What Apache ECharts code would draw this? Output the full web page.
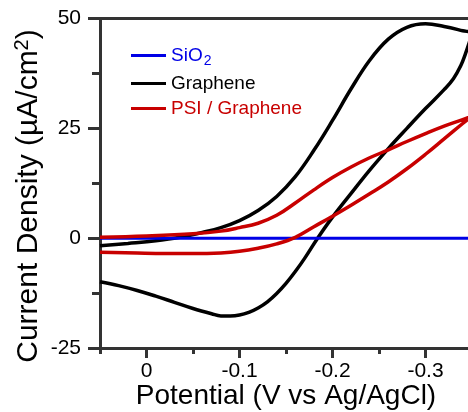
<!DOCTYPE html>
<html>
<head>
<meta charset="utf-8">
<script src="https://cdn.jsdelivr.net/npm/echarts@6/dist/echarts.min.js"></script>
<style>html,body{margin:0;padding:0;background:#fff;}#c{width:468px;height:412px;}</style>
</head>
<body>
<div id="c"></div>
<script>
// Tick labels
const xTickValues = [0, -0.1, -0.2, -0.3];
const xMinorTickValues = [0.05, -0.05, -0.15, -0.25, -0.35];
const yTickValues = [-25, 0, 25, 50];

// SiO2 (flat baseline)
const sio2 = [[0.05, 0], [-0.1, 0], [-0.2, 0], [-0.35, 0]];

// Graphene CV loop: forward branch then return branch
const graphene = [
  [0.05, -1.7], [0.02, -1.2], [-0.01, -0.6], [-0.04, 0.4], [-0.06, 1.3],
  [-0.08, 2.4], [-0.10, 4.0], [-0.12, 6.3], [-0.14, 9.5], [-0.16, 14.0],
  [-0.18, 20.0], [-0.20, 26.8], [-0.22, 34.0], [-0.24, 40.5], [-0.26, 45.3],
  [-0.28, 48.0], [-0.30, 48.8], [-0.32, 48.2], [-0.34, 47.2], [-0.35, 46.6],
  [-0.347, 44.5], [-0.343, 42.0], [-0.338, 39.3], [-0.33, 36.3], [-0.32, 33.8],
  [-0.30, 29.5], [-0.28, 25.0], [-0.26, 20.4], [-0.24, 15.5], [-0.22, 10.2],
  [-0.20, 4.8], [-0.184, 0], [-0.17, -4.6], [-0.16, -7.6], [-0.15, -10.3],
  [-0.14, -12.6], [-0.13, -14.5], [-0.12, -15.9], [-0.11, -16.9], [-0.10, -17.5],
  [-0.09, -17.7], [-0.08, -17.7], [-0.07, -17.2], [-0.05, -16.0], [-0.03, -14.6],
  [-0.01, -13.2], [0.01, -11.9], [0.03, -10.8], [0.05, -9.9]
];

// PSI / Graphene CV loop
const psiGraphene = [
  [0.05, 0.2], [0.0, 0.5], [-0.05, 1.0], [-0.08, 1.6], [-0.10, 2.4],
  [-0.12, 3.4], [-0.14, 5.2], [-0.16, 8.0], [-0.18, 11.0], [-0.20, 13.8],
  [-0.22, 16.2], [-0.24, 18.3], [-0.26, 20.1], [-0.28, 22.0], [-0.30, 23.8],
  [-0.32, 25.5], [-0.34, 27.0], [-0.35, 27.8],
  [-0.34, 26.1], [-0.32, 22.6], [-0.30, 19.1], [-0.28, 15.8], [-0.26, 12.8],
  [-0.24, 10.1], [-0.22, 7.5], [-0.20, 5.0], [-0.18, 2.6], [-0.16, 0.2],
  [-0.14, -1.3], [-0.12, -2.3], [-0.10, -3.0], [-0.08, -3.35], [-0.05, -3.5],
  [-0.02, -3.5], [0.01, -3.4], [0.05, -3.2]
];

const FONT = 'Liberation Sans, Arial, sans-serif';
const AXIS_COLOR = '#333333';
const BLUE = '#0000e6';
const BLACK = '#000000';
const RED = '#c80000';

const chart = echarts.init(document.getElementById('c'), null, {renderer: 'canvas'});
const xBase = {
  type: 'value', min: -0.35, max: 0.05, inverse: true, gridIndex: 0,
  splitLine: {show: false}
};
chart.setOption({
  animation: false,
  backgroundColor: '#ffffff',
  grid: {left: 100, right: -4, top: 18.5, bottom: 64, containLabel: false, outerBoundsMode: 'none'},
  xAxis: [
    Object.assign({}, xBase, {
      position: 'bottom',
      name: 'Potential (V vs Ag/AgCl)',
      nameLocation: 'middle',
      nameGap: 34,
      nameMoveOverlap: false,
      nameTextStyle: {fontFamily: FONT, fontSize: 28, color: '#000', verticalAlign: 'top'},
      axisLine: {show: true, onZero: false, lineStyle: {color: AXIS_COLOR, width: 3}},
      axisTick: {show: true, inside: false, length: 10, customValues: xTickValues, lineStyle: {color: AXIS_COLOR, width: 3}},
      axisLabel: {show: true, customValues: xTickValues, margin: 13, fontFamily: FONT, fontSize: 21, color: '#000',
        formatter: v => (v === 0 ? '0' : String(Math.round(v * 10) / 10))}
    }),
    Object.assign({}, xBase, {
      position: 'bottom',
      axisLine: {show: false, onZero: false},
      axisTick: {show: true, inside: false, length: 6, customValues: xMinorTickValues, lineStyle: {color: AXIS_COLOR, width: 3}},
      axisLabel: {show: false}
    }),
    Object.assign({}, xBase, {
      position: 'top',
      axisLine: {show: true, onZero: false, lineStyle: {color: AXIS_COLOR, width: 3}},
      axisTick: {show: false},
      axisLabel: {show: false}
    })
  ],
  yAxis: {
    type: 'value', min: -25, max: 50, interval: 25,
    splitLine: {show: false},
    axisLine: {show: true, onZero: false, lineStyle: {color: AXIS_COLOR, width: 3}},
    axisTick: {show: true, inside: false, length: 12, lineStyle: {color: AXIS_COLOR, width: 3}},
    minorTick: {show: true, splitNumber: 2, length: 8, lineStyle: {color: AXIS_COLOR, width: 3}},
    axisLabel: {margin: 19, fontFamily: FONT, fontSize: 21, color: '#000'}
  },
  legend: [
    {data: [{name: 'SiO2'}], left: 131, top: 46, padding: 0, orient: 'vertical', itemWidth: 35, itemHeight: 3, icon: 'rect',
      selectedMode: false,
      formatter: () => '{t|SiO}{s|2}',
      textStyle: {color: BLUE, fontFamily: FONT, fontSize: 19,
        rich: {t: {color: BLUE, fontFamily: FONT, fontSize: 19},
               s: {color: BLUE, fontFamily: FONT, fontSize: 14, padding: [11, 0, 0, 1]}}}},
    {data: [{name: 'Graphene'}], left: 131, top: 74, padding: 0, orient: 'vertical', itemWidth: 35, itemHeight: 3, icon: 'rect',
      selectedMode: false,
      textStyle: {color: BLACK, fontFamily: FONT, fontSize: 19}},
    {data: [{name: 'PSI / Graphene'}], left: 131, top: 99, padding: 0, orient: 'vertical', itemWidth: 35, itemHeight: 3, icon: 'rect',
      selectedMode: false,
      textStyle: {color: RED, fontFamily: FONT, fontSize: 19}}
  ],
  graphic: [{
    type: 'text',
    x: 29, y: 196,
    rotation: Math.PI / 2,
    style: {
      text: '{a|Current Density (µA/cm}{b|2}{a|)}',
      align: 'center', verticalAlign: 'middle',
      fill: '#000',
      rich: {
        a: {fontFamily: FONT, fontSize: 30, fill: '#000', color: '#000'},
        b: {fontFamily: FONT, fontSize: 20, fill: '#000', color: '#000', verticalAlign: 'top', padding: [0, 0, 13, 0]}
      }
    }
  }],
  series: [
    {name: 'Graphene', type: 'line', xAxisIndex: 0, data: graphene, showSymbol: false, smooth: 0.4,
      lineStyle: {color: BLACK, width: 3.5}, itemStyle: {color: BLACK}, z: 2},
    {name: 'SiO2', type: 'line', xAxisIndex: 0, data: sio2, showSymbol: false,
      lineStyle: {color: BLUE, width: 3}, itemStyle: {color: BLUE}, z: 3},
    {name: 'PSI / Graphene', type: 'line', xAxisIndex: 0, data: psiGraphene, showSymbol: false, smooth: 0.4,
      lineStyle: {color: RED, width: 3.5}, itemStyle: {color: RED}, z: 4}
  ]
});
</script>
</body>
</html>
